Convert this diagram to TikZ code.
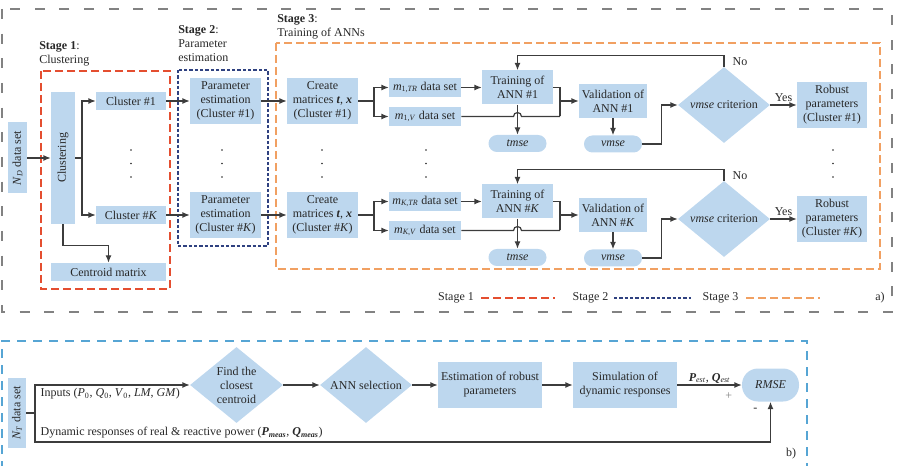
\documentclass[tikz,border=0pt]{standalone}
\usepackage{fontspec}
\setmainfont{Liberation Serif}
\usepackage{graphicx}
\usetikzlibrary{shapes.geometric,arrows.meta,calc}
\definecolor{boxfill}{RGB}{189,215,238}
\definecolor{txt}{RGB}{40,40,40}
\definecolor{lnc}{RGB}{60,60,60}
\definecolor{gframe}{RGB}{130,130,130}
\definecolor{redf}{RGB}{228,78,48}
\definecolor{navyf}{RGB}{47,65,128}
\definecolor{orf}{RGB}{241,160,98}
\definecolor{bluef}{RGB}{86,165,212}
\begin{document}
\begin{tikzpicture}[x=0.75pt,y=-0.75pt,
  font=\fontsize{9}{10.5}\selectfont,
  box/.style={fill=boxfill,draw=none,inner sep=1pt,align=center,text=txt},
  wh/.style 2 args={minimum width={#1*0.75pt},minimum height={#2*0.75pt}},
  pill/.style={box,rounded corners=6.3pt},
  dia/.style={box,diamond,inner sep=0pt,aspect=1.2},
  arr/.style={draw=lnc,line width=0.9pt,-{Latex[length=5.5pt,width=4.5pt]}},
  ln/.style={draw=lnc,line width=0.9pt},
  lbl/.style={text=txt,inner sep=1pt,align=left},
  grayframe/.style={draw=gframe,line width=1.1pt,dash pattern=on 7.5pt off 11pt},
  redframe/.style={draw=redf,line width=1.1pt,dash pattern=on 6pt off 3pt},
  navyframe/.style={draw=navyf,line width=1pt,dash pattern=on 2.5pt off 1.5pt},
  orframe/.style={draw=orf,line width=1.1pt,dash pattern=on 6pt off 3pt},
  blueframe/.style={draw=bluef,line width=1.1pt,dash pattern=on 7pt off 5pt},
]
\useasboundingbox (0,0) rectangle (898,466);

% frames
\draw[grayframe] (2,9) rectangle (892,312);
\draw[redframe] (41,71) rectangle (170,289);
\draw[navyframe] (178,70) rectangle (268,246);
\draw[orframe] (276,43) rectangle (880,269);
\draw[blueframe] (2,470) -- (2,341) -- (807,341) -- (807,470);

% stage labels
\node[lbl,inner sep=0pt,anchor=north west] (S1) at (39,41) {\textbf{Stage 1}:\\Clustering};
\node[lbl,inner sep=0pt,anchor=north west] (S2) at (178,25) {\textbf{Stage 2}:\\Parameter\\estimation};
\node[lbl,inner sep=0pt,anchor=north west] (S3) at (277,14) {\textbf{Stage 3}:\\Training of ANNs};

% stage 1
\node[box,wh={19}{71}] (ND) at (17.5,158) {\rotatebox{90}{\textit{N}\textsubscript{\textit{D}} data set}};
\node[box,wh={24}{132}] (Cl) at (63,158) {\rotatebox{90}{Clustering}};
\node[box,wh={115}{18}] (CM) at (108.5,272) {Centroid matrix};

\foreach \r/\o/\cl/\ss in {1/0/\#1/1, K/114/\#\textit{K}/\textit{K}}{
  \node[box,wh={70}{18}] (C\r) at (131,101+\o) {Cluster \cl};
  \node[box,wh={71}{46}] (P\r) at (225.5,101+\o) {Parameter\\estimation\\(Cluster \cl)};
  \node[box,wh={71}{46}] (M\r) at (322.5,101+\o) {Create\\matrices \textbf{\textit{t}}, \textbf{\textit{x}}\\(Cluster \cl)};
  \node[box,wh={72}{19}] (T\r) at (425,87.5+\o) {\textit{m}\textsubscript{\ss,\textit{TR}} data set};
  \node[box,wh={72}{19}] (V\r) at (425,116.5+\o) {\textit{m}\textsubscript{\ss,\textit{V}} data set};
  \node[box,wh={71}{34}] (TR\r) at (517.5,87.5+\o) {Training of\\ANN \cl};
  \node[pill,wh={58}{17}] (TM\r) at (517.5,143.5+\o) {\textit{tmse}};
  \node[box,wh={68}{34}] (VA\r) at (613,101+\o) {Validation of\\ANN \cl};
  \node[pill,wh={58}{17}] (VM\r) at (613,144+\o) {\textit{vmse}};
  \node[dia,wh={92}{76}] (D\r) at (724,105+\o) {\textit{vmse} criterion};
  \node[box,wh={70}{46}] (R\r) at (832,105+\o) {Robust\\parameters\\(Cluster \cl)};
  \coordinate (S\r) at (374,101+\o);
  \coordinate (J\r) at (560,101+\o);
  \draw[arr] (C\r.east) -- (P\r.west);
  \draw[arr] (P\r.east) -- (M\r.west);
  \draw[ln] (M\r.east) -- (S\r);
  \draw[arr] (S\r) |- (T\r.west);
  \draw[arr] (S\r) |- (V\r.west);
  \draw[arr] (T\r.east) -- (TR\r.west);
  \draw[arr] (TR\r.south) -- (TM\r.north);
  \draw[ln] (TR\r.east) -- (560,87.5+\o) -- (560,116.5+\o);
  \draw[ln] (V\r.east) -- (513.5,116.5+\o) arc[start angle=180,end angle=0,radius=3pt] -- (560,116.5+\o);
  \draw[arr] (J\r) -- (VA\r.west);
  \draw[arr] (VA\r.south) -- (VM\r.north);
  \draw[arr] (VM\r.east) -- ++(19,0) |- (D\r.west);
  \draw[arr] (D\r.east) -- node[lbl,above=1pt]{Yes} (R\r.west);
  \draw[arr] (D\r.north) -- node[lbl,right=5pt]{No} ++(0,-11) -| (TR\r.north);
}

\coordinate (s0) at (82,158);
\draw[arr] (ND.east) -- (Cl.west);
\draw[ln] (Cl.east) -- (s0);
\draw[arr] (s0) |- (C1.west);
\draw[arr] (s0) |- (CK.west);
\draw[arr] (Cl.south) -- ++(0,21) -| (CM.north);

% dots
\foreach \x in {131,222,322,426,833}
  \foreach \y in {150,163.5,177}
    \fill[txt] (\x,\y) circle (0.7pt);

% legend
\node[lbl] (L1) at (456,298) {Stage 1};
\draw[redframe] (481,298) -- (555,298);
\node[lbl] (L2) at (590.5,298) {Stage 2};
\draw[navyframe] (614,298) -- (691,298);
\node[lbl] (L3) at (720.5,298) {Stage 3};
\draw[orframe] (746,298) -- (820,298);
\node[lbl] (La) at (880,298) {a)};

% part b
\node[box,wh={18}{70}] (NT) at (17,413) {\rotatebox{90}{\textit{N}\textsubscript{\textit{T}} data set}};
\node[dia,wh={93}{76}] (FC) at (236.5,385) {Find the\\closest\\centroid};
\node[dia,wh={92}{76}] (AS) at (366,385) {ANN selection};
\node[box,wh={104}{46}] (ER) at (490,385) {Estimation of robust\\parameters};
\node[box,wh={104}{46}] (SR) at (625,385) {Simulation of\\dynamic responses};
\node[box,rounded corners=12pt,wh={57}{33}] (RM) at (770.5,385) {\textit{RMSE}};
\coordinate (b1) at (35,413);
\coordinate (b2) at (35,442);
\draw[ln] (NT.east) -- (b1);
\draw[arr] (b1) |- (FC.west);
\draw[arr] (b1) -- (b2) -| node[pos=0.9,left=6pt,text=txt]{-} (RM.south);
\draw[arr] (FC.east) -- (AS.west);
\draw[arr] (AS.east) -- (ER.west);
\draw[arr] (ER.east) -- (SR.west);
\draw[arr] (SR.east) -- node[lbl,above=0pt]{\textbf{\textit{P}}\textsubscript{\textit{est}}, \textbf{\textit{Q}}\textsubscript{\textit{est}}} node[pos=0.8,below=2pt,text=gray]{+} (RM.west);
\node[lbl,anchor=west] (IN) at (39,394) {Inputs (\textit{P}\textsubscript{0}, \textit{Q}\textsubscript{0}, \textit{V}\textsubscript{0}, \textit{LM}, \textit{GM})};
\node[lbl,anchor=west] (DY) at (39,433) {Dynamic responses of real \& reactive power (\textbf{\textit{P}\textsubscript{\textit{meas}}}, \textbf{\textit{Q}\textsubscript{\textit{meas}}})};
\node[lbl] (Lb) at (791,454) {b)};
\end{tikzpicture}
\end{document}
